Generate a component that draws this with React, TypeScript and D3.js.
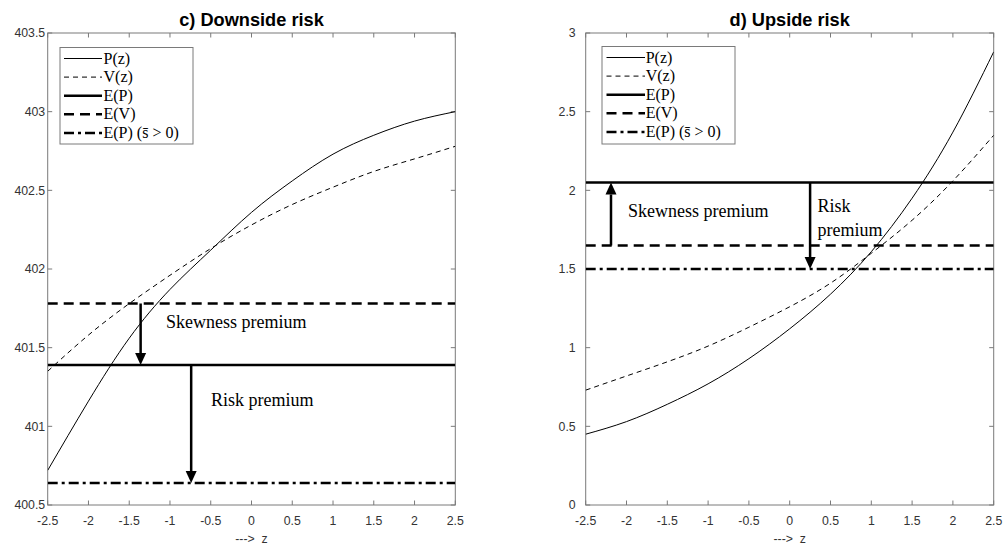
import React, { useEffect } from "react";
import * as d3 from "d3";

// ---- data ----
const zGrid = [-2.5, -2, -1.5, -1, -0.5, 0, 0.5, 1, 1.5, 2, 2.5];
const xTicks = [-2.5, -2, -1.5, -1, -0.5, 0, 0.5, 1, 1.5, 2, 2.5];

const downP = [400.72, 401.16, 401.56, 401.87, 402.12, 402.36, 402.56, 402.73, 402.85, 402.94, 403.0];
const downV = [401.35, 401.58, 401.78, 401.96, 402.13, 402.28, 402.41, 402.52, 402.62, 402.7, 402.78];
const downLevels = { EP: 401.39, EV: 401.78, EPs: 400.64 };
const downYTicks = [400.5, 401, 401.5, 402, 402.5, 403, 403.5];

const upP = [0.45, 0.53, 0.64, 0.77, 0.93, 1.12, 1.34, 1.61, 1.95, 2.37, 2.88];
const upV = [0.73, 0.82, 0.91, 1.01, 1.13, 1.26, 1.41, 1.6, 1.81, 2.06, 2.35];
const upLevels = { EP: 2.05, EV: 1.65, EPs: 1.5 };
const upYTicks = [0, 0.5, 1, 1.5, 2, 2.5, 3];

const legendLabels = ["P(z)", "V(z)", "E(P)", "E(V)", "E(P) (s\u0304 > 0)"];

// arrows: [z, fromLevel, toLevel]
const downArrows: [number, string, string][] = [
  [-1.36, "EV", "EP"],
  [-0.74, "EP", "EPs"],
];
const upArrows: [number, string, string][] = [
  [-2.19, "EV", "EP"],
  [0.25, "EP", "EPs"],
];

type Style = { w: number; dash?: string };
const styles: Record<string, Style> = {
  P: { w: 1 },
  V: { w: 1, dash: "5,4" },
  EP: { w: 2.5 },
  EV: { w: 2.5, dash: "10,6" },
  EPs: { w: 2.5, dash: "10,4,3,4" },
};
const legendKeys = ["P", "V", "EP", "EV", "EPs"];

type Txt = { x: number; y: number; lines: string[] };

type PanelProps = {
  id: string;
  x0: number;
  x1: number;
  y0: number;
  y1: number;
  yDomain: [number, number];
  yTicks: number[];
  title: string;
  P: number[];
  V: number[];
  levels: Record<string, number>;
  arrows: [number, string, string][];
  texts: Txt[];
  legend: { x: number; y: number; w: number; h: number; sx0: number; sx1: number; tx: number };
  yLabelGap: number;
};

const axisColor = "#7a7a7a";
const labelColor = "#333";

function Panel(p: PanelProps) {
  const xs = d3.scaleLinear().domain([-2.5, 2.5]).range([p.x0, p.x1]);
  const ys = d3.scaleLinear().domain(p.yDomain).range([p.y1, p.y0]);
  const line = d3
    .line<number>()
    .x((_, i) => xs(zGrid[i]))
    .y((d) => ys(d))
    .curve(d3.curveNatural);
  const tickLen = 4.5;
  const cx = (p.x0 + p.x1) / 2;
  const rowH = 18.6;

  return (
    <g>
      <defs>
        <clipPath id={"clip-" + p.id}>
          <rect x={p.x0} y={p.y0} width={p.x1 - p.x0} height={p.y1 - p.y0} />
        </clipPath>
      </defs>
      <text
        x={cx}
        y={26}
        textAnchor="middle"
        fontFamily="Liberation Sans, Arial, sans-serif"
        fontWeight="bold"
        fontSize={18.2}
        fill="#000"
      >
        {p.title}
      </text>
      <rect
        x={p.x0}
        y={p.y0}
        width={p.x1 - p.x0}
        height={p.y1 - p.y0}
        fill="#fff"
        stroke={axisColor}
        strokeWidth={1}
      />
      {xTicks.map((t) => (
        <g key={"xt" + t}>
          <line x1={xs(t)} x2={xs(t)} y1={p.y1} y2={p.y1 - tickLen} stroke={axisColor} />
          <line x1={xs(t)} x2={xs(t)} y1={p.y0} y2={p.y0 + tickLen} stroke={axisColor} />
          <text
            x={xs(t)}
            y={525}
            textAnchor="middle"
            fontFamily="Liberation Sans, Arial, sans-serif"
            fontSize={12.3}
            fill={labelColor}
          >
            {String(t)}
          </text>
        </g>
      ))}
      {p.yTicks.map((t) => (
        <g key={"yt" + t}>
          <line x1={p.x0} x2={p.x0 + tickLen} y1={ys(t)} y2={ys(t)} stroke={axisColor} />
          <line x1={p.x1} x2={p.x1 - tickLen} y1={ys(t)} y2={ys(t)} stroke={axisColor} />
          <text
            x={p.x0 - p.yLabelGap}
            y={ys(t) + 4.4}
            textAnchor="end"
            fontFamily="Liberation Sans, Arial, sans-serif"
            fontSize={12.3}
            fill={labelColor}
          >
            {String(t)}
          </text>
        </g>
      ))}
      <text
        x={cx}
        y={543}
        textAnchor="middle"
        fontFamily="Liberation Sans, Arial, sans-serif"
        fontSize={12.3}
        fill={labelColor}
        style={{ whiteSpace: "pre" }}
      >
        {"--->  z"}
      </text>

      <g clipPath={`url(#clip-${p.id})`}>
        {["EP", "EV", "EPs"].map((k) => (
          <line
            key={k}
            x1={p.x0}
            x2={p.x1}
            y1={ys(p.levels[k])}
            y2={ys(p.levels[k])}
            stroke="#000"
            strokeWidth={styles[k].w}
            strokeDasharray={styles[k].dash}
          />
        ))}
        <path d={line(p.V) || ""} fill="none" stroke="#000" strokeWidth={styles.V.w} strokeDasharray={styles.V.dash} />
        <path d={line(p.P) || ""} fill="none" stroke="#000" strokeWidth={styles.P.w} />
        {p.arrows.map(([z, a, b], i) => {
          const x = xs(z);
          const ya = ys(p.levels[a]);
          const yb = ys(p.levels[b]);
          const dir = yb > ya ? 1 : -1;
          const headL = 12;
          const headW = 5.5;
          return (
            <g key={"ar" + i}>
              <line x1={x} x2={x} y1={ya} y2={yb - dir * headL} stroke="#000" strokeWidth={2.5} />
              <polygon
                points={`${x},${yb} ${x - headW},${yb - dir * headL} ${x + headW},${yb - dir * headL}`}
                fill="#000"
              />
            </g>
          );
        })}
      </g>
      {p.texts.map((t, i) => (
        <text key={"tx" + i} fontFamily="Liberation Serif, Times New Roman, serif" fontSize={18} fill="#000">
          {t.lines.map((l, j) => (
            <tspan key={j} x={t.x} y={t.y + j * 23.5}>
              {l}
            </tspan>
          ))}
        </text>
      ))}

      <rect
        x={p.legend.x}
        y={p.legend.y}
        width={p.legend.w}
        height={p.legend.h}
        fill="#fff"
        stroke={axisColor}
        strokeWidth={1}
      />
      {legendKeys.map((k, i) => {
        const yy = p.legend.y + 11 + i * rowH;
        return (
          <g key={"lg" + k}>
            <line
              x1={p.legend.sx0}
              x2={p.legend.sx1}
              y1={yy}
              y2={yy}
              stroke="#000"
              strokeWidth={styles[k].w}
              strokeDasharray={styles[k].dash}
            />
            <text
              x={p.legend.tx}
              y={yy + 5}
              fontFamily="Liberation Serif, Times New Roman, serif"
              fontSize={16}
              fill="#000"
              style={{ whiteSpace: "pre" }}
            >
              {legendLabels[i]}
            </text>
          </g>
        );
      })}
    </g>
  );
}

export default function App() {
  useEffect(() => {
    document.body.style.margin = "0";
  }, []);
  return (
    <svg
      width={1006}
      height={548}
      viewBox="0 0 1006 548"
      style={{ position: "absolute", left: 0, top: 0, background: "#fff" }}
    >
      <rect x={0} y={0} width={1006} height={548} fill="#fff" />
      <Panel
        id="down"
        x0={47.7}
        x1={455.3}
        y0={33}
        y1={505}
        yDomain={[400.5, 403.5]}
        yTicks={downYTicks}
        title="c) Downside risk"
        P={downP}
        V={downV}
        levels={downLevels}
        arrows={downArrows}
        texts={[
          { x: 166, y: 328, lines: ["Skewness premium"] },
          { x: 211, y: 405.5, lines: ["Risk premium"] },
        ]}
        legend={{ x: 60, y: 47.5, w: 133, h: 96.5, sx0: 64, sx1: 102, tx: 103.5 }}
        yLabelGap={2.5}
      />
      <Panel
        id="up"
        x0={585.7}
        x1={993.7}
        y0={33}
        y1={505}
        yDomain={[0, 3]}
        yTicks={upYTicks}
        title="d) Upside risk"
        P={upP}
        V={upV}
        levels={upLevels}
        arrows={upArrows}
        texts={[
          { x: 628, y: 217, lines: ["Skewness premium"] },
          { x: 817.5, y: 212, lines: ["Risk", "premium"] },
        ]}
        legend={{ x: 602, y: 46.5, w: 133, h: 97.5, sx0: 606.5, sx1: 645, tx: 645.7 }}
        yLabelGap={10}
      />
    </svg>
  );
}
